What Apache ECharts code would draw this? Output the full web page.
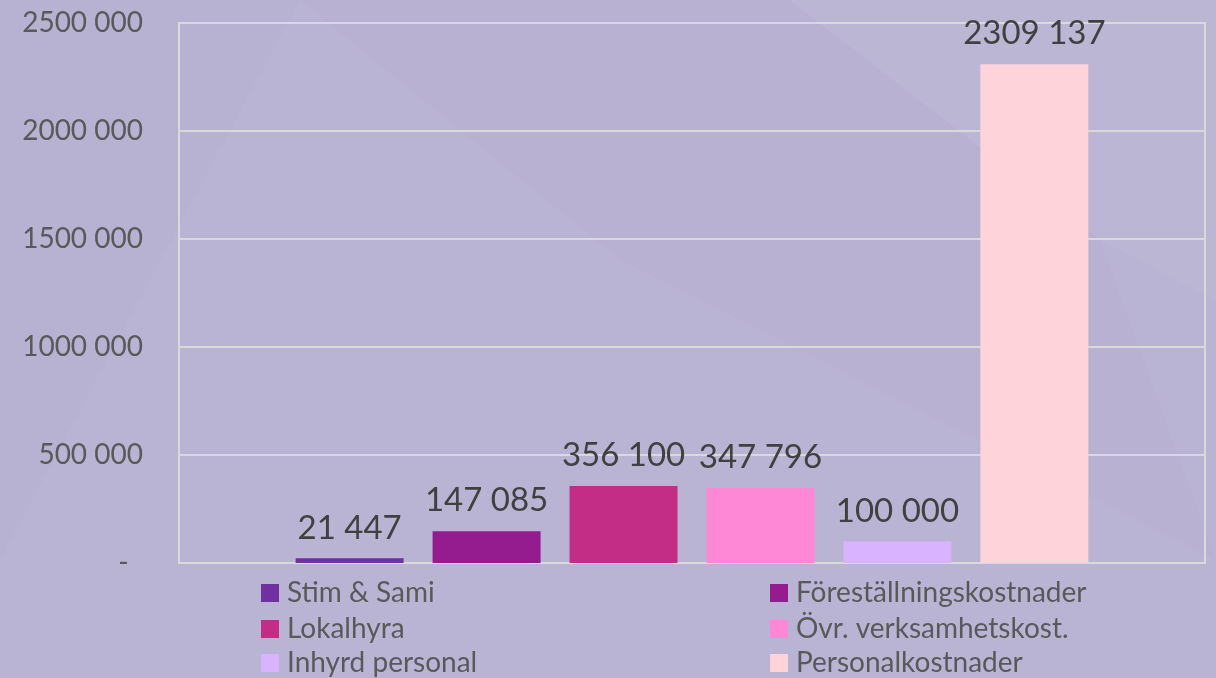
<!DOCTYPE html>
<html>
<head>
<meta charset="utf-8">
<script src="https://cdn.jsdelivr.net/npm/echarts@6/dist/echarts.min.js"></script>
<style>
  html, body { margin: 0; padding: 0; background: #bab4d4; }
  #chart { width: 1216px; height: 678px; }
</style>
</head>
<body>
<div id="chart"></div>
<script>
// data
var seriesNames = ['Stim & Sami', 'Föreställningskostnader', 'Lokalhyra', 'Övr. verksamhetskost.', 'Inhyrd personal', 'Personalkostnader'];
var seriesValues = [21447, 147085, 356100, 347796, 100000, 2309137];
var seriesColors = ['#7030a0', '#941c8f', '#c42d85', '#ff88d6', '#d9b3ff', '#ffd3d9'];

var font = 'Lato, "Open Sans", sans-serif';

function fmt(v) {
  if (v === 0) return '-  ';
  var s = String(Math.round(v));
  if (s.length <= 3) return s;
  return s.slice(0, s.length - 3) + ' ' + s.slice(s.length - 3);
}

var chart = echarts.init(document.getElementById('chart'));

var series = seriesNames.map(function (name, i) {
  return {
    name: name,
    type: 'bar',
    barWidth: 108,
    barGap: '26.8%',
    data: [seriesValues[i]],
    itemStyle: { color: seriesColors[i] },
    label: {
      show: true,
      position: 'top',
      distance: 14,
      fontFamily: font,
      fontSize: 33,
      color: '#404040',
      formatter: function (p) { return fmt(p.value); }
    }
  };
});

// legend: two columns, three rows, one legend box per entry
var legendCols = [261, 770];
var legendRows = [579, 615, 649];
var legends = seriesNames.map(function (name, i) {
  return {
    data: [name],
    left: legendCols[i % 2],
    top: legendRows[Math.floor(i / 2)],
    padding: 0,
    itemWidth: 18,
    itemHeight: 18,
    icon: 'rect',
    itemStyle: { borderWidth: 0 },
    textStyle: { fontFamily: font, fontSize: 28, lineHeight: 18, color: '#595959', padding: [0, 0, 0, 3] }
  };
});

chart.setOption({
  backgroundColor: '#bab4d4',
  animation: false,
  graphic: [
    { type: 'polygon', silent: true, z: -10, shape: { points: [[0, 0], [300, 0], [0, 560]] }, style: { fill: 'rgba(150,140,185,0.07)' } },
    { type: 'polygon', silent: true, z: -10, shape: { points: [[790, 0], [1216, 0], [1216, 300], [1100, 240]] }, style: { fill: 'rgba(255,255,255,0.04)' } },
    { type: 'polygon', silent: true, z: -10, shape: { points: [[300, 0], [790, 0], [1100, 240], [1216, 560], [620, 260]] }, style: { fill: 'rgba(150,140,185,0.05)' } }
  ],
  grid: {
    left: 179, right: 11, top: 23, bottom: 115,
    show: true, borderColor: '#d9d9d9', borderWidth: 2, backgroundColor: 'transparent'
  },
  legend: legends,
  xAxis: {
    type: 'category',
    data: [''],
    axisLine: { lineStyle: { color: '#d9d9d9', width: 2 } },
    axisTick: { show: false },
    axisLabel: { show: false }
  },
  yAxis: {
    type: 'value',
    min: 0,
    max: 2500000,
    interval: 500000,
    axisLine: { show: false },
    axisTick: { show: false },
    splitLine: { lineStyle: { color: '#d9d9d9', width: 2 } },
    axisLabel: {
      margin: 36,
      fontFamily: font,
      fontSize: 28,
      color: '#595959',
      formatter: fmt
    }
  },
  series: series
});
</script>
</body>
</html>
